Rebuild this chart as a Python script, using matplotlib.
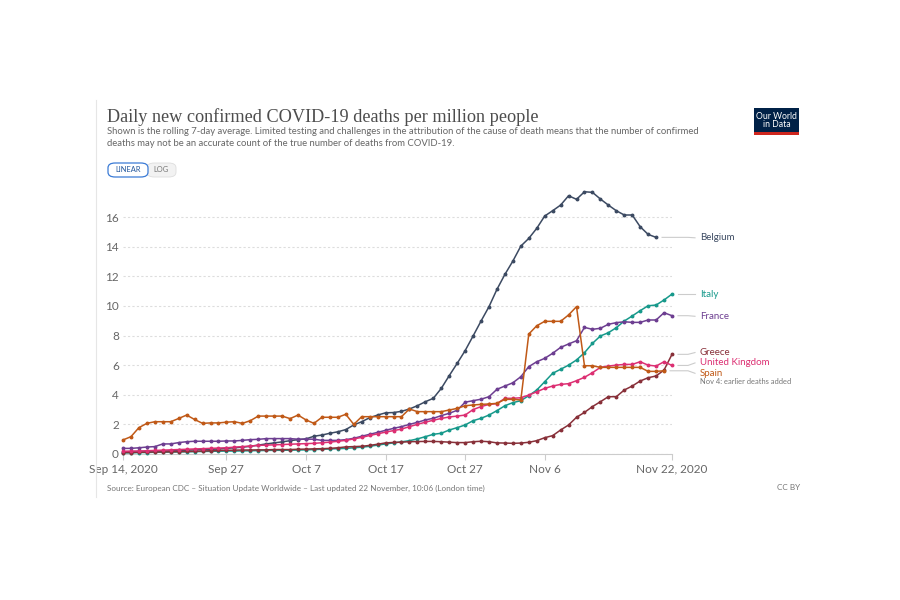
import numpy as np
import pandas as pd
import matplotlib
matplotlib.use("Agg")
import matplotlib.pyplot as plt
import matplotlib.dates as mdates
from matplotlib.patches import FancyBboxPatch, Rectangle

nan = np.nan

# Data: 7-day rolling average of daily deaths per million, Sep 14 - Nov 22, 2020
dates = pd.date_range("2020-09-14", "2020-11-22", freq="D")

belgium = [0.15, 0.15, 0.17, 0.18, 0.2, 0.2, 0.22, 0.24, 0.26, 0.28,
           0.3, 0.32, 0.34, 0.38, 0.42, 0.46, 0.52, 0.6, 0.68, 0.75,
           0.82, 0.9, 0.97, 1.02, 1.2, 1.28, 1.4, 1.5, 1.65, 1.96,
           2.18, 2.45, 2.63, 2.78, 2.8, 2.88, 3.04, 3.26, 3.53, 3.76,
           4.43, 5.29, 6.12, 6.98, 7.97, 8.98, 9.95, 11.12, 12.13, 13.03,
           14.04, 14.56, 15.24, 16.07, 16.43, 16.81, 17.44, 17.2, 17.71, 17.67,
           17.22, 16.81, 16.43, 16.14, 16.14, 15.35, 14.83, 14.63, nan, nan]

italy = [0.08, 0.08, 0.1, 0.1, 0.12, 0.12, 0.13, 0.14, 0.15, 0.16,
         0.17, 0.18, 0.19, 0.2, 0.2, 0.21, 0.22, 0.23, 0.24, 0.25,
         0.25, 0.26, 0.27, 0.28, 0.3, 0.32, 0.34, 0.36, 0.38, 0.42,
         0.46, 0.52, 0.6, 0.68, 0.75, 0.82, 0.9, 1.02, 1.17, 1.33,
         1.4, 1.62, 1.78, 1.96, 2.25, 2.41, 2.63, 2.93, 3.26, 3.47,
         3.6, 3.94, 4.32, 4.88, 5.45, 5.72, 6.0, 6.35, 6.84, 7.47,
         7.97, 8.19, 8.53, 8.98, 9.32, 9.68, 10.01, 10.06, 10.4, 10.8]

france = [0.38, 0.38, 0.42, 0.47, 0.5, 0.68, 0.68, 0.77, 0.83, 0.86,
          0.86, 0.86, 0.86, 0.88, 0.88, 0.92, 0.97, 0.99, 1.04, 1.04,
          1.04, 1.04, 1.0, 1.0, 1.0, 0.92, 0.92, 0.92, 0.97, 1.06,
          1.2, 1.33, 1.46, 1.6, 1.73, 1.85, 2.0, 2.14, 2.3, 2.41,
          2.59, 2.75, 2.95, 3.5, 3.6, 3.7, 3.87, 4.37, 4.59, 4.81,
          5.22, 5.9, 6.23, 6.46, 6.8, 7.2, 7.43, 7.65, 8.55, 8.42,
          8.49, 8.76, 8.87, 8.93, 8.89, 8.89, 9.05, 9.05, 9.54, 9.34]

greece = [0.1, 0.1, 0.12, 0.12, 0.14, 0.14, 0.15, 0.16, 0.17, 0.18,
          0.2, 0.22, 0.24, 0.25, 0.26, 0.27, 0.27, 0.28, 0.28, 0.3,
          0.3, 0.3, 0.32, 0.33, 0.35, 0.36, 0.38, 0.42, 0.48, 0.5,
          0.52, 0.58, 0.66, 0.75, 0.78, 0.8, 0.83, 0.84, 0.85, 0.85,
          0.83, 0.8, 0.77, 0.77, 0.83, 0.86, 0.83, 0.75, 0.74, 0.72,
          0.74, 0.79, 0.9, 1.1, 1.24, 1.62, 1.96, 2.48, 2.81, 3.2,
          3.53, 3.87, 3.87, 4.32, 4.59, 4.93, 5.15, 5.27, 5.67, 6.73]

uk = [0.18, 0.2, 0.2, 0.22, 0.24, 0.26, 0.28, 0.3, 0.32, 0.34,
      0.36, 0.38, 0.4, 0.42, 0.46, 0.5, 0.54, 0.58, 0.6, 0.62,
      0.64, 0.66, 0.68, 0.7, 0.72, 0.76, 0.8, 0.86, 0.92, 1.02,
      1.12, 1.25, 1.36, 1.48, 1.58, 1.68, 1.85, 2.0, 2.15, 2.28,
      2.4, 2.5, 2.56, 2.63, 3.0, 3.2, 3.35, 3.4, 3.76, 3.76,
      3.8, 3.98, 4.2, 4.43, 4.59, 4.7, 4.75, 4.95, 5.18, 5.49,
      5.85, 5.94, 6.0, 6.05, 6.05, 6.23, 6.0, 5.94, 6.23, 5.98]

spain = [0.95, 1.17, 1.78, 2.07, 2.18, 2.18, 2.18, 2.4, 2.63, 2.33,
         2.07, 2.1, 2.1, 2.15, 2.18, 2.07, 2.25, 2.56, 2.56, 2.56,
         2.56, 2.39, 2.63, 2.3, 2.07, 2.48, 2.48, 2.48, 2.68, 2.0,
         2.52, 2.52, 2.52, 2.52, 2.52, 2.52, 3.04, 2.86, 2.86, 2.86,
         2.86, 2.97, 3.08, 3.26, 3.31, 3.35, 3.38, 3.42, 3.69, 3.69,
         3.65, 8.1, 8.66, 8.96, 8.96, 8.96, 9.39, 9.95, 5.96, 5.96,
         5.85, 5.85, 5.85, 5.85, 5.85, 5.85, 5.58, 5.58, 5.62, nan]

countries = ["Belgium", "Italy", "France", "Greece", "United Kingdom", "Spain"]
series = [belgium, italy, france, greece, uk, spain]
colors = ["#3c4a62", "#17998b", "#6d3e91", "#883039", "#dc2f72", "#c05917"]

tick_dates = ["2020-09-14", "2020-09-27", "2020-10-07", "2020-10-17",
              "2020-10-27", "2020-11-06", "2020-11-22"]
tick_labels = ["Sep 14, 2020", "Sep 27", "Oct 7", "Oct 17", "Oct 27", "Nov 6", "Nov 22, 2020"]

# label positions (y in data units) for the right-hand labels
label_y = [14.6, 10.8, 9.3, 6.85, 6.15, 5.45]

grey = "#666666"
sans = ["Lato", "DejaVu Sans"]

fig = plt.figure(figsize=(9, 6), dpi=100)
W, H = 900, 600


def fx(px):
    return px / W


def fy(py):
    return 1 - py / H


# card border line on the left
fig.add_artist(plt.Line2D([fx(96), fx(96)], [fy(100), fy(497)], color="#e6e6e6", lw=0.8))

# title + subtitle
fig.text(fx(107), fy(117), "Daily new confirmed COVID-19 deaths per million people",
         family=["Liberation Serif"], fontsize=13.15, color="#4d4d4d", va="center")
fig.text(fx(107), fy(132), "Shown is the rolling 7-day average. Limited testing and challenges in the "
         "attribution of the cause of death means that the number of confirmed",
         family=sans, fontsize=6.8, color=grey, va="center")
fig.text(fx(107), fy(143), "deaths may not be an accurate count of the true number of deaths from COVID-19.",
         family=sans, fontsize=6.8, color=grey, va="center")

# LINEAR / LOG toggle
fig.add_artist(FancyBboxPatch((fx(147), fy(177)), fx(29), 14 / H,
                              boxstyle="round,pad=0,rounding_size=0.008",
                              fc="#f2f2f2", ec="#dddddd", lw=0.6, transform=fig.transFigure))
fig.add_artist(FancyBboxPatch((fx(108), fy(177)), fx(40), 14 / H,
                              boxstyle="round,pad=0,rounding_size=0.008",
                              fc="white", ec="#3b7bd6", lw=0.9, transform=fig.transFigure))
fig.text(fx(128), fy(170), "LINEAR", family=sans, fontsize=5.4, color="#24579c", ha="center", va="center")
fig.text(fx(161.5), fy(170), "LOG", family=sans, fontsize=5.4, color="#777777", ha="center", va="center")

# OWID logo
fig.add_artist(Rectangle((fx(754), fy(135)), fx(45), 27 / H, fc="#002147", ec="none",
                         transform=fig.transFigure))
fig.add_artist(Rectangle((fx(754), fy(135)), fx(45), 3 / H, fc="#ce261e", ec="none",
                         transform=fig.transFigure))
fig.text(fx(776.5), fy(120.5), "Our World\nin Data", family=sans, fontsize=6.2, color="white",
         ha="center", va="center", linespacing=0.95)

# main axes
ax = fig.add_axes([fx(123), fy(454), fx(549), (454 - 184.5) / H])
ax.set_ylim(0, 18.2)
ax.set_xlim(dates[0], dates[-1])

for vals, c in zip(series, colors):
    ax.plot(dates, vals, color=c, lw=1.1, marker="o", ms=1.8, zorder=3, clip_on=False)

ax.set_yticks([0, 2, 4, 6, 8, 10, 12, 14, 16])
ax.yaxis.grid(True, color="#dddddd", linestyle=(0, (2, 2)), lw=0.8)
ax.set_axisbelow(True)
for side in ["top", "right", "left"]:
    ax.spines[side].set_visible(False)
ax.spines["bottom"].set_color("#cccccc")
ax.tick_params(axis="y", length=0, pad=3, labelsize=8.5, labelcolor=grey)
ax.tick_params(axis="x", length=4, color="#cccccc", pad=3, labelsize=8.5, labelcolor=grey)
for lab in ax.get_yticklabels():
    lab.set_family(sans)

ax.set_xticks(pd.to_datetime(tick_dates))
ax.set_xticklabels(tick_labels, family=sans)

# right-hand labels with connector lines
last_idx = [67, 69, 69, 69, 69, 68]
trans = ax.transData
inv = fig.transFigure.inverted()
label_x_px = 700
for name, vals, c, ly, li in zip(countries, series, colors, label_y, last_idx):
    x0, y0 = trans.transform((mdates.date2num(dates[li]), vals[li]))
    _, y1 = trans.transform((0, ly))
    x0f, y0f = inv.transform((x0, y0))
    _, y1f = inv.transform((x0, y1))
    fig.add_artist(plt.Line2D([x0f + fx(6), fx(688), fx(695)], [y0f, y0f, y1f],
                              color="#cccccc", lw=0.8))
    fig.text(fx(label_x_px), y1f, name, family=sans, fontsize=7, color=c, va="center")

_, ys = trans.transform((0, label_y[-1]))
ysf = inv.transform((0, ys))[1]
fig.text(fx(label_x_px), ysf - 8.5 / H, "Nov 4: earlier deaths added", family=sans,
         fontsize=5.4, color="#777777", va="center")

# footer
fig.text(fx(107), fy(488), "Source: European CDC \u2013 Situation Update Worldwide \u2013 "
         "Last updated 22 November, 10:06 (London time)",
         family=sans, fontsize=5.9, color="#777777", va="center")
fig.text(fx(800), fy(488), "CC BY", family=sans, fontsize=5.9, color="#777777", va="center", ha="right")

fig.savefig("out.png", dpi=100)
